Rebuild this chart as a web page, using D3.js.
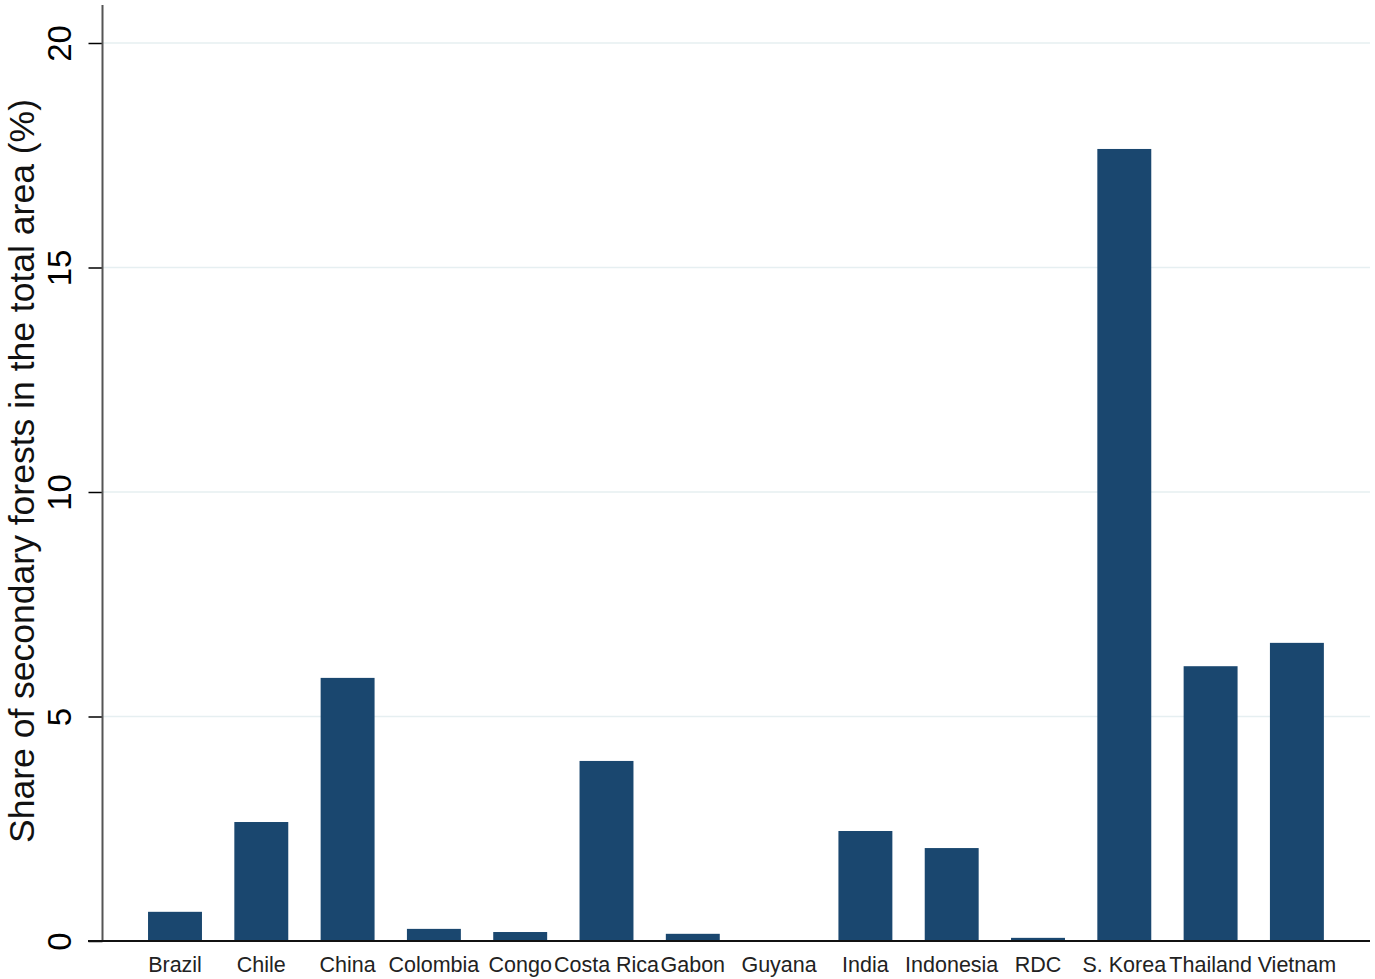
<!DOCTYPE html>
<html><head><meta charset="utf-8">
<script src="https://cdn.jsdelivr.net/npm/d3@7"></script>
<style>body{margin:0;background:#fff}svg{display:block}text{font-family:"Liberation Sans",Arial,Helvetica,sans-serif}</style>
</head><body><svg id="c" width="1375" height="979"></svg>
<script>
const categories = ["Brazil","Chile","China","Colombia","Congo","Costa Rica","Gabon","Guyana","India","Indonesia","RDC","S. Korea","Thailand","Vietnam"];
const values = [0.65,2.65,5.86,0.27,0.2,4.01,0.16,0,2.45,2.07,0.07,17.64,6.12,6.64];
const yTicks = [0,5,10,15,20];
const yLabel = "Share of secondary forests in the total area (%)";

const svg = d3.select("#c");
const y = d3.scaleLinear().domain([0,20]).range([941,43]);
const x = d3.scaleBand().domain(categories).range([131.85,1340.05]).paddingInner(0.375).paddingOuter(0.1875);

// gridlines
svg.append("g").selectAll("line").data(yTicks.filter(d=>d>0)).join("line")
  .attr("x1",103).attr("x2",1370).attr("y1",d=>y(d)).attr("y2",d=>y(d))
  .attr("stroke","#e6eff1").attr("stroke-width",1.5);

// bars
svg.append("g").selectAll("rect").data(categories).join("rect")
  .attr("x",d=>x(d)).attr("width",x.bandwidth())
  .attr("y",(d,i)=>y(values[i])).attr("height",(d,i)=>y(0)-y(values[i]))
  .attr("fill","#1a476f");

// y axis
const ya = svg.append("g").attr("transform","translate(102.5,0)")
  .call(d3.axisLeft(y).tickValues(yTicks).tickSize(14).tickPadding(0).tickFormat(d3.format("d")));
ya.select(".domain").remove();
ya.selectAll(".tick line").attr("stroke","#000").attr("stroke-width",1.5);
ya.selectAll(".tick text").attr("transform","translate(-43,0) rotate(-90)")
  .attr("text-anchor","middle").attr("dy","0.35em").attr("x",0).attr("y",0)
  .style("font-size","33px").attr("fill","#000");
svg.append("line").attr("x1",102.5).attr("x2",102.5).attr("y1",5).attr("y2",941)
  .attr("stroke","#555").attr("stroke-width",2);

// x axis
const xa = svg.append("g").attr("transform","translate(0,941)")
  .call(d3.axisBottom(x).tickSize(0).tickPadding(0));
xa.select(".domain").remove();
xa.selectAll(".tick text").attr("y",31).attr("dy",0).style("font-size","21.5px").attr("fill","#222");
svg.append("line").attr("x1",88).attr("x2",1370).attr("y1",941).attr("y2",941)
  .attr("stroke","#111").attr("stroke-width",2);

// y label
svg.append("text").attr("transform","translate(34,471) rotate(-90)")
  .attr("text-anchor","middle").style("font-size","35.5px").attr("fill","#111").text(yLabel);
</script></body></html>
